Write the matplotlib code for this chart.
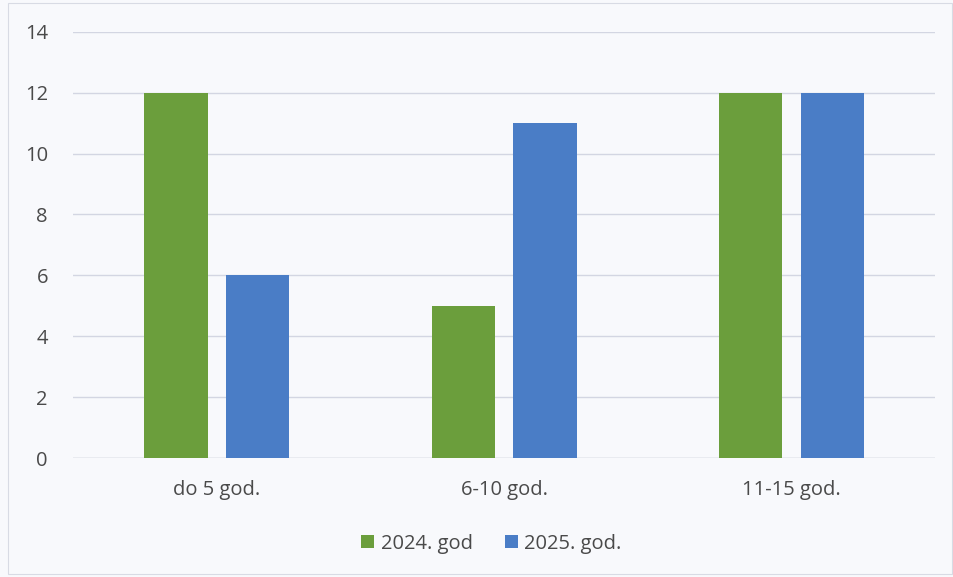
import matplotlib.pyplot as plt
import numpy as np
from matplotlib.patches import Rectangle

categories = ["do 5 god.", "6-10 god.", "11-15 god."]
values_2024 = [12, 5, 12]
values_2025 = [6, 11, 12]
series_labels = ["2024. god", "2025. god."]
yticks = [0, 2, 4, 6, 8, 10, 12, 14]

plt.rcParams['font.family'] = ['Open Sans', 'DejaVu Sans']
text_color = "#4a4a4a"
bg = "#f8f9fc"

fig = plt.figure(figsize=(9.54, 5.77), dpi=100, facecolor=bg)
ax = fig.add_axes([0.0765, 0.206, 0.904, 0.739])
ax.set_facecolor(bg)

# thin frame around the whole chart area
fig.patches.append(Rectangle((0.008, 0.005), 0.99, 0.99, transform=fig.transFigure,
                             fill=False, edgecolor="#d8dbe4", linewidth=0.8))

x = np.arange(len(categories))
w = 0.22
ax.bar(x - 0.142, values_2024, width=w, color="#6b9e3c", label=series_labels[0], zorder=3)
ax.bar(x + 0.142, values_2025, width=w, color="#4a7dc6", label=series_labels[1], zorder=3)

ax.set_xlim(-0.5, 2.5)
ax.set_ylim(0, 14)
ax.set_yticks(yticks)
ax.yaxis.grid(True, color="#d3d6e2", linewidth=1.0, zorder=0)
for s in ax.spines.values():
    s.set_visible(False)
ax.axhline(0, color="#cfd2dc", linewidth=1.0, zorder=2)
ax.tick_params(axis="both", length=0, labelsize=14.5, colors=text_color)
ax.tick_params(axis="y", pad=18)
ax.tick_params(axis="x", pad=16)
ax.set_xticks(x)
ax.set_xticklabels(categories)

fig.legend(loc="center", bbox_to_anchor=(0.515, 0.058), ncol=2, frameon=False,
           fontsize=14.5, labelcolor=text_color, handlelength=0.65, handleheight=0.65,
           handletextpad=0.3, columnspacing=1.6)

fig.savefig("out.png", dpi=100, facecolor=bg)
